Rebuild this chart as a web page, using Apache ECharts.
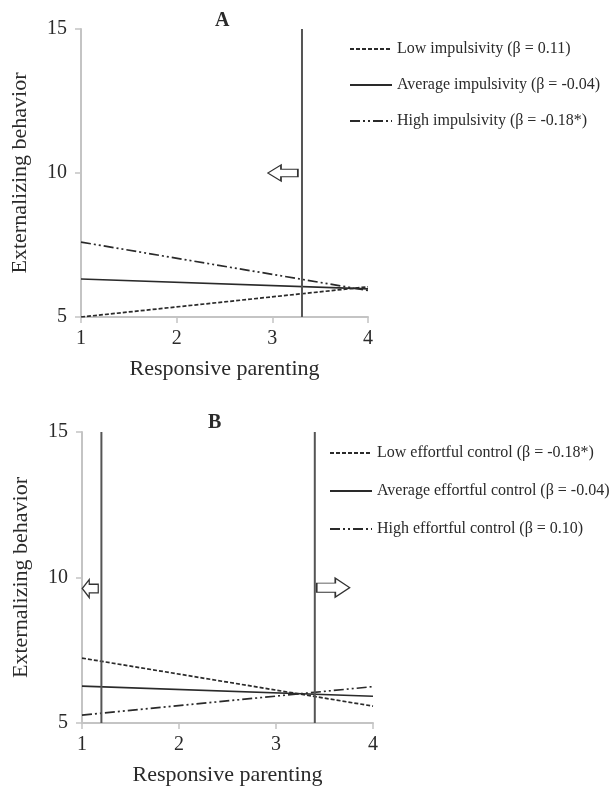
<!DOCTYPE html>
<html>
<head>
<meta charset="utf-8">
<script src="https://cdn.jsdelivr.net/npm/echarts@6/dist/echarts.min.js"></script>
<style>
  html, body { margin: 0; padding: 0; background: #fff; }
  #chart { width: 613px; height: 787px; }
</style>
</head>
<body>
<div id="chart"></div>
<script>
// x 两端点（Responsive parenting）
var xEnds = [1, 4];

// A: impulsivity
var namesA = ['Low impulsivity (β = 0.11)', 'Average impulsivity (β = -0.04)', 'High impulsivity (β = -0.18*)'];
var lowA = [5.0, 6.05];
var avgA = [6.32, 5.98];
var highA = [7.6, 5.92];
var cutA = [3.31];

// B: effortful control
var namesB = ['Low effortful control (β = -0.18*)', 'Average effortful control (β = -0.04)', 'High effortful control (β = 0.10)'];
var lowB = [7.23, 5.58];
var avgB = [6.27, 5.92];
var highB = [5.27, 6.25];
var cutB = [1.2, 3.4];

var serif = '"Liberation Serif", "Times New Roman", "DejaVu Serif", serif';
var axisGray = '#c4c4c4';
var ink = '#2a2a2a';
var arrowPath = 'path://M0,5L7,0L7,2.6L16,2.6L16,7.4L7,7.4L7,10Z';

function pairs(ys) {
  return xEnds.map(function (x, i) { return [x, ys[i]]; });
}

// 三种线型：虚线 / 实线 / 点划线
var dashes = [[4, 2], 'solid', [10, 3, 2, 3, 2, 3]];

function groupSeries(names, lists, idx) {
  return names.map(function (n, i) {
    return {
      name: n, type: 'line', xAxisIndex: idx, yAxisIndex: idx,
      data: pairs(lists[i]), symbol: 'none', silent: true,
      lineStyle: { color: ink, width: 1.7, type: dashes[i] },
      itemStyle: { color: ink }
    };
  });
}

// 临界值竖线 + 空心箭头
function cutSeries(x, idx, arrow) {
  var s = {
    name: 'cut' + idx + '_' + x, type: 'line', xAxisIndex: idx, yAxisIndex: idx,
    data: [[x, 5], [x, 15]], symbol: 'none', silent: true,
    lineStyle: { color: '#555', width: 2 }
  };
  if (arrow) {
    s.markPoint = {
      silent: true,
      data: [{
        coord: arrow.coord, symbol: arrowPath, symbolSize: arrow.size,
        symbolRotate: arrow.rotate || 0, symbolKeepAspect: false,
        itemStyle: { color: '#fff', borderColor: '#333', borderWidth: 1.3 },
        label: { show: false }
      }]
    };
  }
  return s;
}

function xAx(idx) {
  return {
    gridIndex: idx, type: 'value', min: 1, max: 4, interval: 1,
    name: 'Responsive parenting', nameLocation: 'middle', nameGap: 41,
    nameTextStyle: { fontFamily: serif, fontSize: 22, color: ink },
    axisLine: { show: true, onZero: false, lineStyle: { color: axisGray, width: 2 } },
    axisTick: { show: true, length: 6, lineStyle: { color: axisGray, width: 1.5 } },
    axisLabel: { fontFamily: serif, fontSize: 20, color: ink, margin: 12 },
    splitLine: { show: false }
  };
}

function yAx(idx) {
  return {
    gridIndex: idx, type: 'value', min: 5, max: 15, interval: 5,
    name: 'Externalizing behavior', nameLocation: 'middle', nameGap: 50,
    nameTextStyle: { fontFamily: serif, fontSize: 22, color: ink },
    axisLine: { show: true, onZero: false, lineStyle: { color: axisGray, width: 2 } },
    axisTick: { show: true, length: 6, lineStyle: { color: axisGray, width: 1.5 } },
    axisLabel: { fontFamily: serif, fontSize: 20, color: ink, margin: 14 },
    splitLine: { show: false }
  };
}

function legendFor(names, left, top, gap) {
  return {
    data: names, orient: 'vertical', left: left, top: top, padding: 0,
    itemWidth: 42, itemHeight: 16, itemGap: gap, selectedMode: false,
    itemStyle: { opacity: 0 },
    textStyle: { fontFamily: serif, fontSize: 16, color: ink }
  };
}

var series = []
  .concat(groupSeries(namesA, [lowA, avgA, highA], 0))
  .concat(groupSeries(namesB, [lowB, avgB, highB], 1))
  .concat([
    cutSeries(cutA[0], 0, { coord: [3.11, 10], size: [30, 16] }),
    cutSeries(cutB[0], 1, { coord: [1.085, 9.62], size: [16, 18] }),
    cutSeries(cutB[1], 1, { coord: [3.59, 9.65], size: [33, 19], rotate: 180 })
  ]);

var chart = echarts.init(document.getElementById('chart'));
chart.setOption({
  animation: false,
  backgroundColor: '#fff',
  title: [
    { text: 'A', left: 210, top: 6, textStyle: { fontFamily: serif, fontSize: 20, fontWeight: 'bold', color: ink } },
    { text: 'B', left: 203, top: 408, textStyle: { fontFamily: serif, fontSize: 20, fontWeight: 'bold', color: ink } }
  ],
  legend: [
    legendFor(namesA, 349, 41, 20),
    legendFor(namesB, 329, 445, 22)
  ],
  grid: [
    { left: 81, top: 29, width: 287, height: 288 },
    { left: 82, top: 432, width: 291, height: 291 }
  ],
  xAxis: [xAx(0), xAx(1)],
  yAxis: [yAx(0), yAx(1)],
  series: series
});
</script>
</body>
</html>
